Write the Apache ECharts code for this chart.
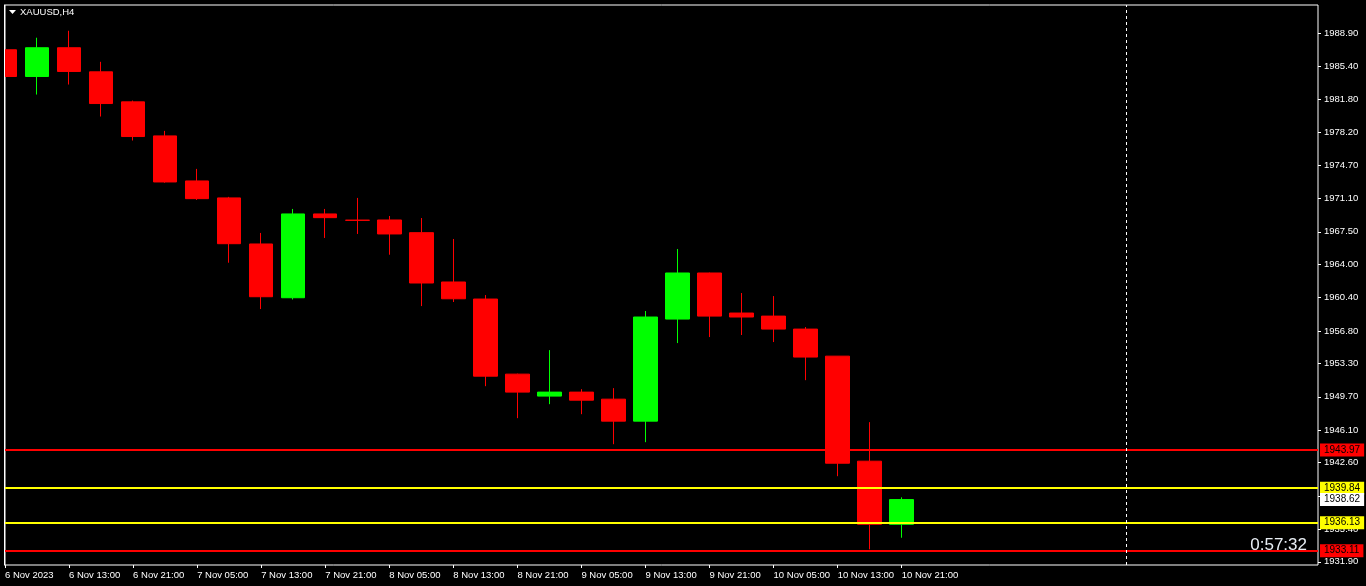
<!DOCTYPE html>
<html>
<head>
<meta charset="utf-8">
<script src="https://cdn.jsdelivr.net/npm/echarts@6/dist/echarts.min.js"></script>
<style>
html,body{margin:0;padding:0;background:#000;}
#chart{width:1366px;height:586px;}
</style>
</head>
<body>
<div id="chart"></div>
<script>
// ---- data ----
const symbolTitle = 'XAUUSD,H4';
const firstDateLabel = '6 Nov 2023';
const countdown = '0:57:32';
const times = ['6 Nov 05:00','6 Nov 09:00','6 Nov 13:00','6 Nov 17:00','6 Nov 21:00',
  '7 Nov 01:00','7 Nov 05:00','7 Nov 09:00','7 Nov 13:00','7 Nov 17:00','7 Nov 21:00',
  '8 Nov 01:00','8 Nov 05:00','8 Nov 09:00','8 Nov 13:00','8 Nov 17:00','8 Nov 21:00',
  '9 Nov 01:00','9 Nov 05:00','9 Nov 09:00','9 Nov 13:00','9 Nov 17:00','9 Nov 21:00',
  '10 Nov 01:00','10 Nov 05:00','10 Nov 09:00','10 Nov 13:00','10 Nov 17:00','10 Nov 21:00'];
const open  = [1987.14,1984.26,1987.36,1984.76,1981.52,1977.85,1972.99,1971.16,1966.19,1960.39,1969.43,1968.76,1968.78,1967.41,1962.09,1960.25,1952.15,1949.78,1950.21,1949.45,1947.08,1958.09,1963.06,1958.74,1958.41,1957.01,1954.09,1942.76,1935.95];
const close = [1984.26,1987.36,1984.80,1981.34,1977.78,1972.88,1971.08,1966.22,1960.50,1969.43,1969.03,1968.74,1967.27,1961.98,1960.28,1951.93,1950.21,1950.21,1949.34,1947.08,1958.31,1963.06,1958.41,1958.31,1957.01,1953.99,1942.54,1935.95,1938.62];
const low   = [1982.10,1982.31,1983.39,1979.94,1977.35,1972.80,1970.94,1964.17,1959.17,1960.20,1966.84,1967.27,1965.03,1959.49,1959.93,1950.85,1947.40,1948.91,1947.83,1944.59,1944.81,1955.50,1956.15,1956.37,1955.61,1951.50,1941.14,1933.25,1934.50];
const high  = [1988.33,1988.44,1989.19,1985.84,1981.66,1978.39,1974.29,1971.27,1967.38,1969.97,1969.97,1971.16,1969.21,1968.99,1966.73,1960.68,1952.20,1954.74,1950.53,1950.64,1958.96,1965.65,1963.10,1960.90,1960.57,1957.23,1954.10,1946.97,1938.86];
const futureSlots = 13;
const cursorSlot = 35;
const yTicks = [1988.90,1985.40,1981.80,1978.20,1974.70,1971.10,1967.50,1964.00,1960.40,1956.80,1953.30,1949.70,1946.10,1942.60,1939.00,1935.40,1931.90];
const yMin = 1931.56, yMax = 1991.97;
const levelValues = [1943.97, 1939.84, 1936.13, 1933.11];
const levelColors = ['#ff0000', '#ffff00', '#ffff00', '#ff0000'];
const bidPrice = 1938.62;

// ---- build ----
const categories = times.concat(new Array(futureSlots).fill(''));
const candles = times.map((t, i) => [open[i], close[i], low[i], high[i]]);
const FONT = 'Liberation Sans';

function boxLabel(text, bg) {
  return { show: true, position: 'end', distance: 2, formatter: text,
    color: '#000', backgroundColor: bg, padding: [2, 4, 1, 4],
    fontFamily: FONT, fontSize: 10 };
}
const levelLines = levelValues.map((v, i) => ({
  yAxis: v,
  lineStyle: { color: levelColors[i], width: 2, type: 'solid' },
  label: boxLabel(v.toFixed(2), levelColors[i])
}));
levelLines.push({
  yAxis: bidPrice,
  lineStyle: { color: 'rgba(0,0,0,0)', width: 1, type: 'solid' },
  label: boxLabel(bidPrice.toFixed(2), '#ffffff')
});
levelLines.push({
  xAxis: cursorSlot,
  lineStyle: { color: '#ffffff', width: 1, type: [3, 3] },
  label: { show: false }
});

const chart = echarts.init(document.getElementById('chart'), null, { renderer: 'canvas' });
chart.setOption({
  backgroundColor: '#000',
  animation: false,
  grid: { left: 5, top: 5, right: 48, bottom: 21, show: true, borderColor: '#ffffff', borderWidth: 1, backgroundColor: '#000' },
  xAxis: {
    type: 'category',
    data: categories,
    boundaryGap: false,
    axisLine: { show: false },
    splitLine: { show: false },
    axisTick: { show: true, length: 3, lineStyle: { color: '#fff' },
      interval: (idx, val) => idx % 2 === 0 && val !== '' },
    axisLabel: { show: true, color: '#fff', fontFamily: FONT, fontSize: 9.5, align: 'left', margin: 5,
      interval: (idx, val) => idx % 2 === 0 && val !== '',
      formatter: (val, idx) => idx === 0 ? firstDateLabel : val }
  },
  yAxis: {
    type: 'value',
    position: 'right',
    min: yMin, max: yMax,
    scale: true,
    axisLine: { show: false },
    splitLine: { show: false },
    axisTick: { show: true, length: 3, lineStyle: { color: '#fff' }, customValues: yTicks },
    axisLabel: { show: true, color: '#fff', fontFamily: FONT, fontSize: 9.5, margin: 6,
      customValues: yTicks, formatter: v => Number(v).toFixed(2) }
  },
  graphic: [
    { type: 'rect', shape: { x: 0, y: 0, width: 4, height: 586 }, style: { fill: '#000' }, z: 100 },
    { type: 'line', shape: { x1: 4.5, y1: 4.5, x2: 4.5, y2: 565.5 }, style: { stroke: '#fff', lineWidth: 1 }, z: 101 },
    { type: 'polygon', shape: { points: [[9, 10], [16, 10], [12.5, 14]] }, style: { fill: '#fff' }, z: 101 },
    { type: 'text', left: 20, top: 7, style: { text: symbolTitle, fill: '#fff', font: '9.5px "Liberation Sans"' }, z: 101 },
    { type: 'text', right: 59, top: 537, style: { text: countdown, fill: '#e8eef4', font: '17px "Liberation Sans"' }, z: 101 }
  ],
  series: [{
    type: 'candlestick',
    data: candles,
    barWidth: 24,
    clip: true,
    itemStyle: { color: '#00ff00', color0: '#ff0000', borderColor: '#00ff00', borderColor0: '#ff0000', borderWidth: 1 },
    markLine: { silent: true, symbol: 'none', animation: false, data: levelLines }
  }]
});
</script>
</body>
</html>
